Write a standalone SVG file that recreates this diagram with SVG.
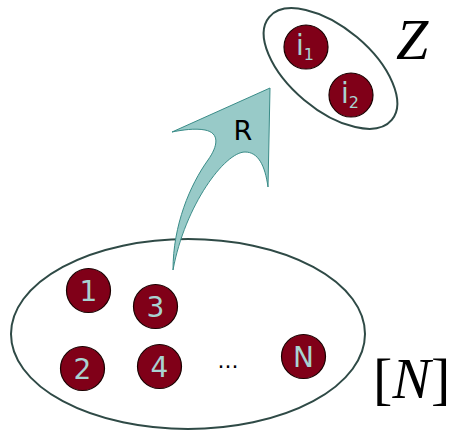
<svg xmlns="http://www.w3.org/2000/svg" width="451" height="432" viewBox="0 0 451 432">
<style>
.set{fill:none;stroke:#2f4a46;stroke-width:2}
.el{fill:#800018;stroke:#1a0000;stroke-width:1.2}
.lbl{font-family:"DejaVu Sans",sans-serif;font-size:28px;fill:#a9d3d1;text-anchor:middle}
.sub{font-size:16px}
.math{font-family:"Liberation Serif",serif;font-size:58px;fill:#000}
</style>
<rect width="451" height="432" fill="#fff"/>
<g id="setN"><ellipse class="set" cx="188" cy="334" rx="177" ry="95"/></g>
<g id="setZ"><ellipse class="set" cx="330.5" cy="68.5" rx="80" ry="41" transform="rotate(40 330.5 68.5)"/></g>
<g id="connectors">
<path id="R" d="M173,270 C173,225 190,185 208,160 C218,146 220,133 205,130 C195,128 182,130 172,132 L270,88 L268,187 C265,165 258,152 245,152 C225,152 185,205 173,270 Z" fill="#98cac8" stroke="#3a8c88" stroke-width="1"/>
<text x="243" y="140" font-family="DejaVu Sans,sans-serif" font-size="27" fill="#000" text-anchor="middle">R</text>
</g>
<g id="n1"><circle class="el" cx="88.5" cy="290.5" r="22"/><text class="lbl" x="88.5" y="300.5">1</text></g>
<g id="n3"><circle class="el" cx="155.5" cy="306.5" r="22"/><text class="lbl" x="155.5" y="316.5">3</text></g>
<g id="n2"><circle class="el" cx="82.5" cy="368.5" r="22"/><text class="lbl" x="82.5" y="378.5">2</text></g>
<g id="n4"><circle class="el" cx="159.5" cy="366.5" r="22"/><text class="lbl" x="159.5" y="376.5">4</text></g>
<g id="dots"><text x="228" y="368" font-family="DejaVu Sans,sans-serif" font-size="22" fill="#000" text-anchor="middle">...</text></g>
<g id="nN"><circle class="el" cx="303.5" cy="356.5" r="22"/><text class="lbl" x="303.5" y="366.5" font-size="26">N</text></g>
<g id="i1"><circle class="el" cx="306" cy="47" r="22"/><text class="lbl" x="305" y="55">i<tspan class="sub" dy="5">1</tspan></text></g>
<g id="i2"><circle class="el" cx="351" cy="95" r="22"/><text class="lbl" x="350" y="103">i<tspan class="sub" dy="5">2</tspan></text></g>
<g id="labelZ"><text class="math" x="396" y="59" font-style="italic" font-size="64">Z</text></g>
<g id="labelN"><text class="math" x="373" y="398">[</text><text class="math" x="392.5" y="398" font-style="italic" textLength="38" lengthAdjust="spacingAndGlyphs">N</text><text class="math" x="431" y="398">]</text></g>
</svg>
